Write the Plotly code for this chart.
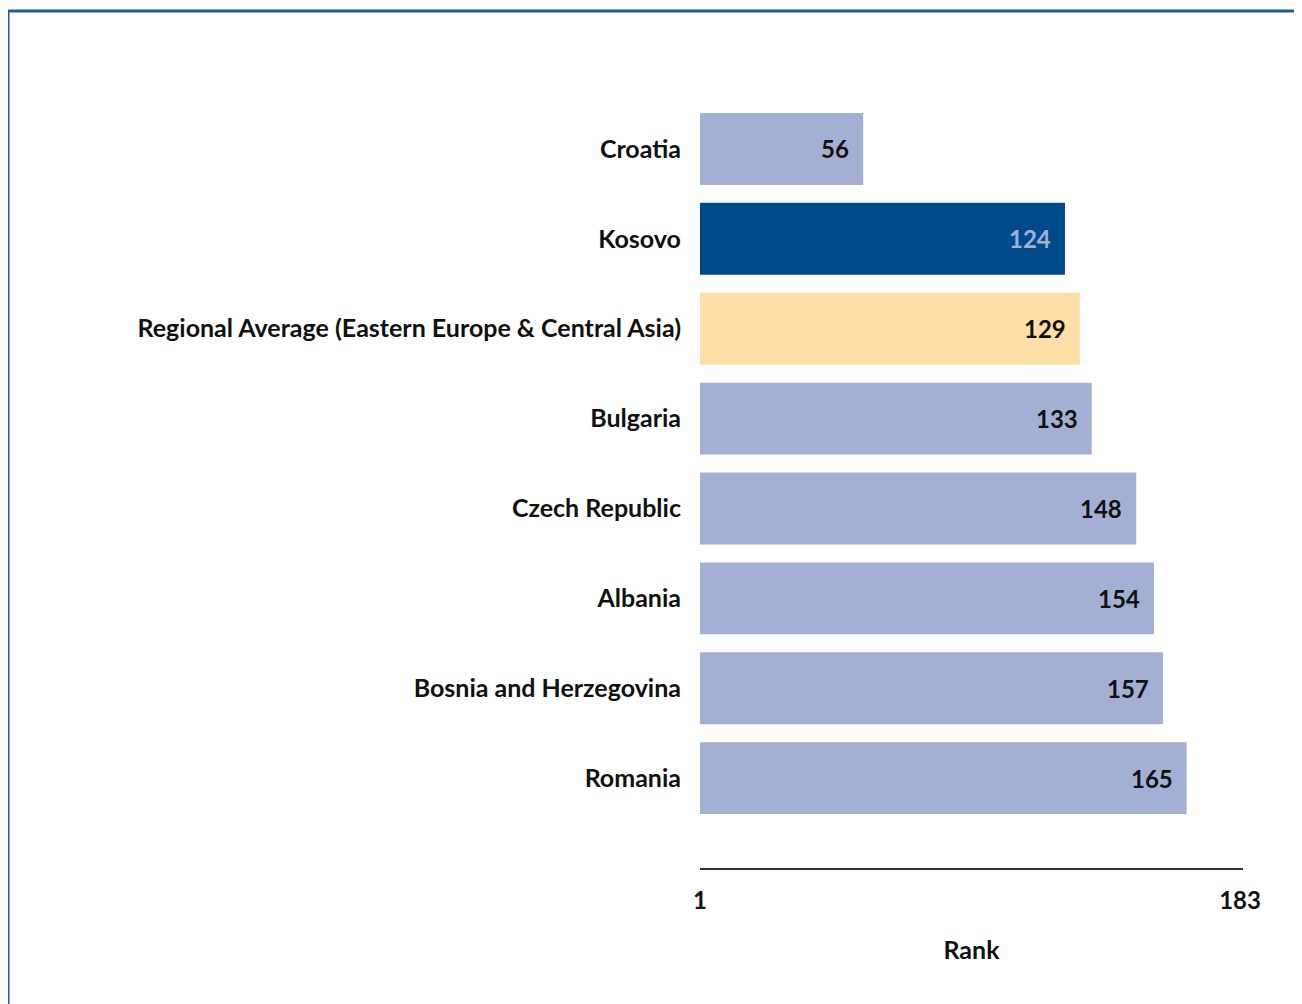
import plotly.graph_objects as go

countries = ["Croatia", "Kosovo", "Regional Average (Eastern Europe & Central Asia)",
             "Bulgaria", "Czech Republic", "Albania", "Bosnia and Herzegovina", "Romania"]
ranks = [56, 124, 129, 133, 148, 154, 157, 165]
bar_colors = ["#a4b0d3", "#004a8c", "#fedfa7", "#a4b0d3", "#a4b0d3", "#a4b0d3", "#a4b0d3", "#a4b0d3"]
label_colors = ["#111111", "#a4b0d3", "#111111", "#111111", "#111111", "#111111", "#111111", "#111111"]
axis_min, axis_max = 1, 184
axis_ticks = [1, 183]

FONT = "Lato, 'Open Sans', sans-serif"
FS = 25

fig = go.Figure()
fig.add_trace(go.Bar(
    y=countries, x=ranks, orientation="h",
    marker=dict(color=bar_colors, line=dict(width=0)),
    width=0.8, hoverinfo="x+y",
))

for c, r, lc in zip(countries, ranks, label_colors):
    fig.add_annotation(x=r, y=c, text=f"<b>{r}</b>", showarrow=False,
                       xanchor="right", xshift=-12,
                       font=dict(family=FONT, size=24, color=lc))

# page has an 8px body margin; figure sized to fit the window
W, H = 1294, 996
ml, mr, mt, mb = 692, 59, 96, 136
pw, ph = W - ml - mr, H - mt - mb
fx0 = (0 - ml) / pw
fy1 = (H - mb - 3) / ph
fig.add_shape(type="rect", xref="paper", yref="paper",
              x0=fx0, x1=2, y0=-2, y1=fy1,
              line=dict(color="#1f5aa6", width=3), layer="below")

fig.update_layout(
    width=W, height=H,
    margin=dict(l=ml, r=mr, t=mt, b=mb),
    plot_bgcolor="white", paper_bgcolor="white",
    showlegend=False,
    bargap=0.2,
    font=dict(family=FONT, size=FS, color="#111111", weight="bold"),
    xaxis=dict(range=[axis_min, axis_max], tickvals=axis_ticks,
               ticktext=[f"<b>{t}</b>" for t in axis_ticks],
               showgrid=False, zeroline=False, showline=True,
               linecolor="#333333", linewidth=2, ticks="",
               ticklabelstandoff=10,
               tickfont=dict(family=FONT, size=24, color="#111111"),
               title=dict(text="<b>Rank</b>", standoff=29,
                          font=dict(family=FONT, size=FS, color="#111111"))),
    yaxis=dict(categoryorder="array", categoryarray=countries,
               range=[len(countries), -0.5],
               showgrid=False, zeroline=False, showline=False, ticks="",
               ticklabelstandoff=18,
               tickmode="array", tickvals=countries,
               ticktext=[f"<b>{c}</b>" for c in countries],
               tickfont=dict(family=FONT, size=FS, color="#111111")),
)

fig.write_html("out.html")
